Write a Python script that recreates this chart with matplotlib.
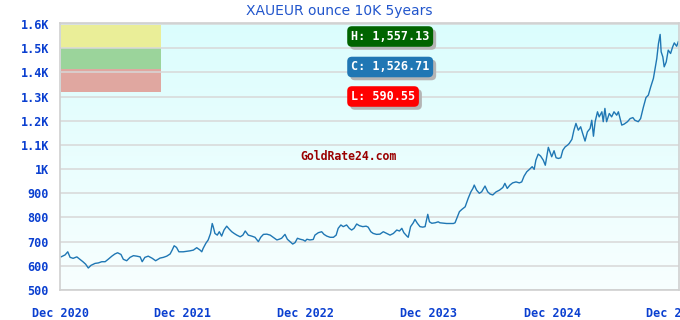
import matplotlib
matplotlib.use("Agg")
import matplotlib.pyplot as plt
import matplotlib.dates as mdates
import matplotlib.transforms as mtransforms
from matplotlib.patches import Rectangle
import numpy as np
import pandas as pd

dates = [
    "2020-12-04", "2020-12-16", "2020-12-24", "2020-12-31", "2021-01-09", "2021-01-20", "2021-01-29", "2021-02-07",
    "2021-02-15", "2021-02-23", "2021-03-03", "2021-03-15", "2021-03-25", "2021-04-04", "2021-04-14", "2021-04-23",
    "2021-05-04", "2021-05-13", "2021-05-21", "2021-05-31", "2021-06-07", "2021-06-17", "2021-06-27", "2021-07-07",
    "2021-07-17", "2021-07-27", "2021-08-02", "2021-08-10", "2021-08-20", "2021-09-01", "2021-09-11", "2021-09-24",
    "2021-10-04", "2021-10-14", "2021-10-24", "2021-10-30", "2021-11-05", "2021-11-12", "2021-11-19", "2021-12-02",
    "2021-12-22", "2022-01-01", "2022-01-11", "2022-01-21", "2022-01-26", "2022-01-30", "2022-02-07", "2022-02-14",
    "2022-02-21", "2022-02-26", "2022-03-01", "2022-03-06", "2022-03-13", "2022-03-19", "2022-03-26", "2022-04-02",
    "2022-04-10", "2022-04-18", "2022-04-25", "2022-05-02", "2022-05-10", "2022-05-20", "2022-05-28", "2022-06-04",
    "2022-06-13", "2022-06-23", "2022-07-03", "2022-07-13", "2022-07-20", "2022-07-28", "2022-08-07", "2022-08-17",
    "2022-08-26", "2022-09-06", "2022-09-13", "2022-09-20", "2022-09-30", "2022-10-07", "2022-10-15", "2022-10-23",
    "2022-10-30", "2022-11-06", "2022-11-14", "2022-11-23", "2022-11-29", "2022-12-04", "2022-12-13", "2022-12-23",
    "2022-12-28", "2023-01-07", "2023-01-17", "2023-01-24", "2023-02-01", "2023-02-11", "2023-02-21", "2023-03-01",
    "2023-03-07", "2023-03-15", "2023-03-22", "2023-04-01", "2023-04-09", "2023-04-16", "2023-04-23", "2023-05-01",
    "2023-05-09", "2023-05-19", "2023-05-29", "2023-06-04", "2023-06-12", "2023-06-19", "2023-06-29", "2023-07-09",
    "2023-07-19", "2023-07-29", "2023-08-08", "2023-08-18", "2023-08-28", "2023-09-05", "2023-09-12", "2023-09-18",
    "2023-09-27", "2023-10-01", "2023-10-08", "2023-10-16", "2023-10-21", "2023-10-28", "2023-11-05", "2023-11-13",
    "2023-11-20", "2023-11-28", "2023-12-03", "2023-12-10", "2023-12-20", "2023-12-29", "2024-01-03", "2024-01-23",
    "2024-02-12", "2024-02-17", "2024-03-01", "2024-03-08", "2024-03-18", "2024-03-27", "2024-04-04", "2024-04-10",
    "2024-04-14", "2024-04-21", "2024-04-29", "2024-05-06", "2024-05-16", "2024-05-24", "2024-05-31", "2024-06-08",
    "2024-06-18", "2024-06-28", "2024-07-08", "2024-07-14", "2024-07-21", "2024-07-29", "2024-08-06", "2024-08-16",
    "2024-08-26", "2024-09-02", "2024-09-09", "2024-09-17", "2024-09-25", "2024-10-03", "2024-10-09", "2024-10-14",
    "2024-10-21", "2024-10-28", "2024-11-05", "2024-11-11", "2024-11-20", "2024-11-30", "2024-12-07", "2024-12-13",
    "2024-12-20", "2024-12-27", "2025-01-02", "2025-01-09", "2025-01-16", "2025-01-21", "2025-01-29", "2025-02-04",
    "2025-02-10", "2025-02-17", "2025-02-24", "2025-03-02", "2025-03-09", "2025-03-16", "2025-03-24", "2025-03-29",
    "2025-04-03", "2025-04-08", "2025-04-15", "2025-04-20", "2025-04-28", "2025-05-02", "2025-05-07", "2025-05-12",
    "2025-05-20", "2025-05-27", "2025-06-03", "2025-06-11", "2025-06-16", "2025-06-26", "2025-07-03", "2025-07-13",
    "2025-07-21", "2025-07-29", "2025-08-04", "2025-08-14", "2025-08-21", "2025-08-29", "2025-09-06", "2025-09-13",
    "2025-09-20", "2025-09-28", "2025-10-03", "2025-10-08", "2025-10-13", "2025-10-18", "2025-10-21", "2025-10-26",
    "2025-10-30", "2025-11-05", "2025-11-11", "2025-11-18", "2025-11-24", "2025-11-29", "2025-12-06", "2025-12-11",
]

prices = [
    637, 645, 658, 635, 631, 637, 627, 617,
    607, 591, 602, 610, 612, 617, 617, 627,
    640, 649, 654, 647, 627, 621, 635, 642,
    640, 637, 617, 635, 640, 631, 621, 632,
    635, 640, 649, 665, 683, 676, 658, 658,
    662, 665, 675, 665, 658, 672, 693, 707,
    734, 775, 762, 734, 727, 741, 723, 748,
    764, 751, 741, 734, 727, 720, 727, 744,
    727, 723, 718, 700, 718, 730, 731, 727,
    718, 707, 710, 714, 730, 710, 700, 690,
    696, 714, 710, 707, 702, 710, 707, 709,
    727, 737, 741, 730, 723, 718, 718, 727,
    755, 769, 762, 769, 755, 748, 755, 773,
    766, 762, 764, 760, 741, 734, 730, 731,
    741, 734, 727, 734, 748, 744, 755, 737,
    723, 718, 762, 778, 792, 776, 762, 760,
    762, 813, 782, 776, 778, 782, 778, 775,
    775, 778, 824, 833, 844, 879, 906, 920,
    934, 913, 900, 906, 930, 906, 897, 893,
    906, 913, 924, 941, 920, 934, 943, 947,
    943, 947, 971, 989, 999, 1010, 999, 1037,
    1062, 1054, 1037, 1016, 1090, 1051, 1076, 1047,
    1044, 1047, 1078, 1092, 1099, 1106, 1123, 1161,
    1189, 1161, 1175, 1147, 1116, 1154, 1168, 1202,
    1136, 1196, 1237, 1216, 1237, 1196, 1251, 1196,
    1230, 1216, 1237, 1223, 1237, 1182, 1186, 1196,
    1209, 1213, 1202, 1196, 1209, 1255, 1296, 1306,
    1340, 1375, 1416, 1457, 1519, 1557, 1485, 1464,
    1423, 1443, 1492, 1478, 1505, 1522, 1508, 1527,
]

title = "XAUEUR ounce 10K 5years"
x_tick_dates = ["2020-12-01", "2021-12-01", "2022-12-01", "2023-12-01", "2024-12-01", "2025-12-01"]
x_tick_labels = ["Dec 2020", "Dec 2021", "Dec 2022", "Dec 2023", "Dec 2024", "Dec 2025"]
y_ticks = [500, 600, 700, 800, 900, 1000, 1100, 1200, 1300, 1400, 1500, 1600]
y_tick_labels = ["500", "600", "700", "800", "900", "1K", "1.1K", "1.2K", "1.3K", "1.4K", "1.5K", "1.6K"]
high_label = "H: 1,557.13"
close_label = "C: 1,526.71"
low_label = "L: 590.55"
watermark = "GoldRate24.com"

W, H = 680, 320
fig = plt.figure(figsize=(W / 100, H / 100), dpi=100)
fig.patch.set_facecolor("white")
ax = fig.add_axes([60 / W, 30 / H, 619 / W, 266.7 / H])

x = pd.to_datetime(dates)
ax.set_xlim(pd.Timestamp("2020-12-01"), pd.Timestamp("2025-12-13"))
ax.set_ylim(500, 1603)

# background gradient
top = np.array([219, 253, 253]) / 255.0
bot = np.array([248, 255, 255]) / 255.0
t = np.linspace(0, 1, 256)[:, None]
grad = (top[None, :] * (1 - t) + bot[None, :] * t)[:, None, :]
ax.imshow(grad, extent=[0, 1, 0, 1], transform=ax.transAxes, aspect="auto", zorder=0)

# legend-like colored blocks
bw = 100 / 619
ah = 266.7
for (y0, y1, c) in [(25, 47.7, "#eaee98"), (47.7, 69.3, "#9bd49b"), (69.3, 91.7, "#e0a7a0")]:
    ax.add_patch(Rectangle((0.002, (290 - y1) / ah), bw, (y1 - y0) / ah, transform=ax.transAxes,
                           facecolor=c, edgecolor="none", zorder=1))

ax.set_yticks(y_ticks)
ax.set_yticklabels(y_tick_labels)
ax.set_xticks(pd.to_datetime(x_tick_dates))
ax.set_xticklabels(x_tick_labels)
ax.grid(axis="y", color="#d8d8d8", linewidth=1.1, zorder=2)
ax.grid(axis="x", visible=False)
ax.set_axisbelow(False)

ax.plot(x, prices, color="#1f77b4", linewidth=1.0, zorder=3)

for s in ax.spines.values():
    s.set_color("#d0d0d0")
    s.set_linewidth(1.2)
    s.set_zorder(4)

tick_font = dict(family="DejaVu Sans Mono", weight="bold", size=8.5)
ax.tick_params(axis="both", length=0, colors="#0a3fd0")
ax.tick_params(axis="y", pad=8)
ax.tick_params(axis="x", pad=12)
for lab in ax.get_xticklabels() + ax.get_yticklabels():
    lab.set_fontfamily("DejaVu Sans Mono")
    lab.set_fontweight("bold")
    lab.set_fontsize(8.5)
    lab.set_color("#0a3fd0")

fig.text(339 / W, 1 - 11 / H, title, ha="center", va="center", color="#2256cc",
         fontsize=10, family="DejaVu Sans")

# H / C / L labels with shadow
shadow_tr = mtransforms.offset_copy(fig.transFigure, fig=fig, x=3, y=-3, units="dots")
for (txt, yc, col) in [(high_label, 36.5, "#006400"), (close_label, 67, "#2077b4"), (low_label, 96.5, "#ff0000")]:
    for tr, fc, tc, z in [(shadow_tr, "#b4b4b4", "#b4b4b4", 5), (fig.transFigure, col, "white", 6)]:
        fig.text(351 / W, 1 - yc / H, txt, transform=tr, ha="left", va="center", color=tc,
                 fontsize=8.5, family="DejaVu Sans Mono", weight="bold", zorder=z,
                 bbox=dict(boxstyle="round,pad=0.32,rounding_size=0.4", fc=fc, ec="none"))

fig.text(349 / W, 1 - 157 / H, watermark, ha="center", va="center", color="#9a0000",
         fontsize=8.3, family="DejaVu Sans Mono", weight="bold")

fig.savefig("out.png", dpi=100)
